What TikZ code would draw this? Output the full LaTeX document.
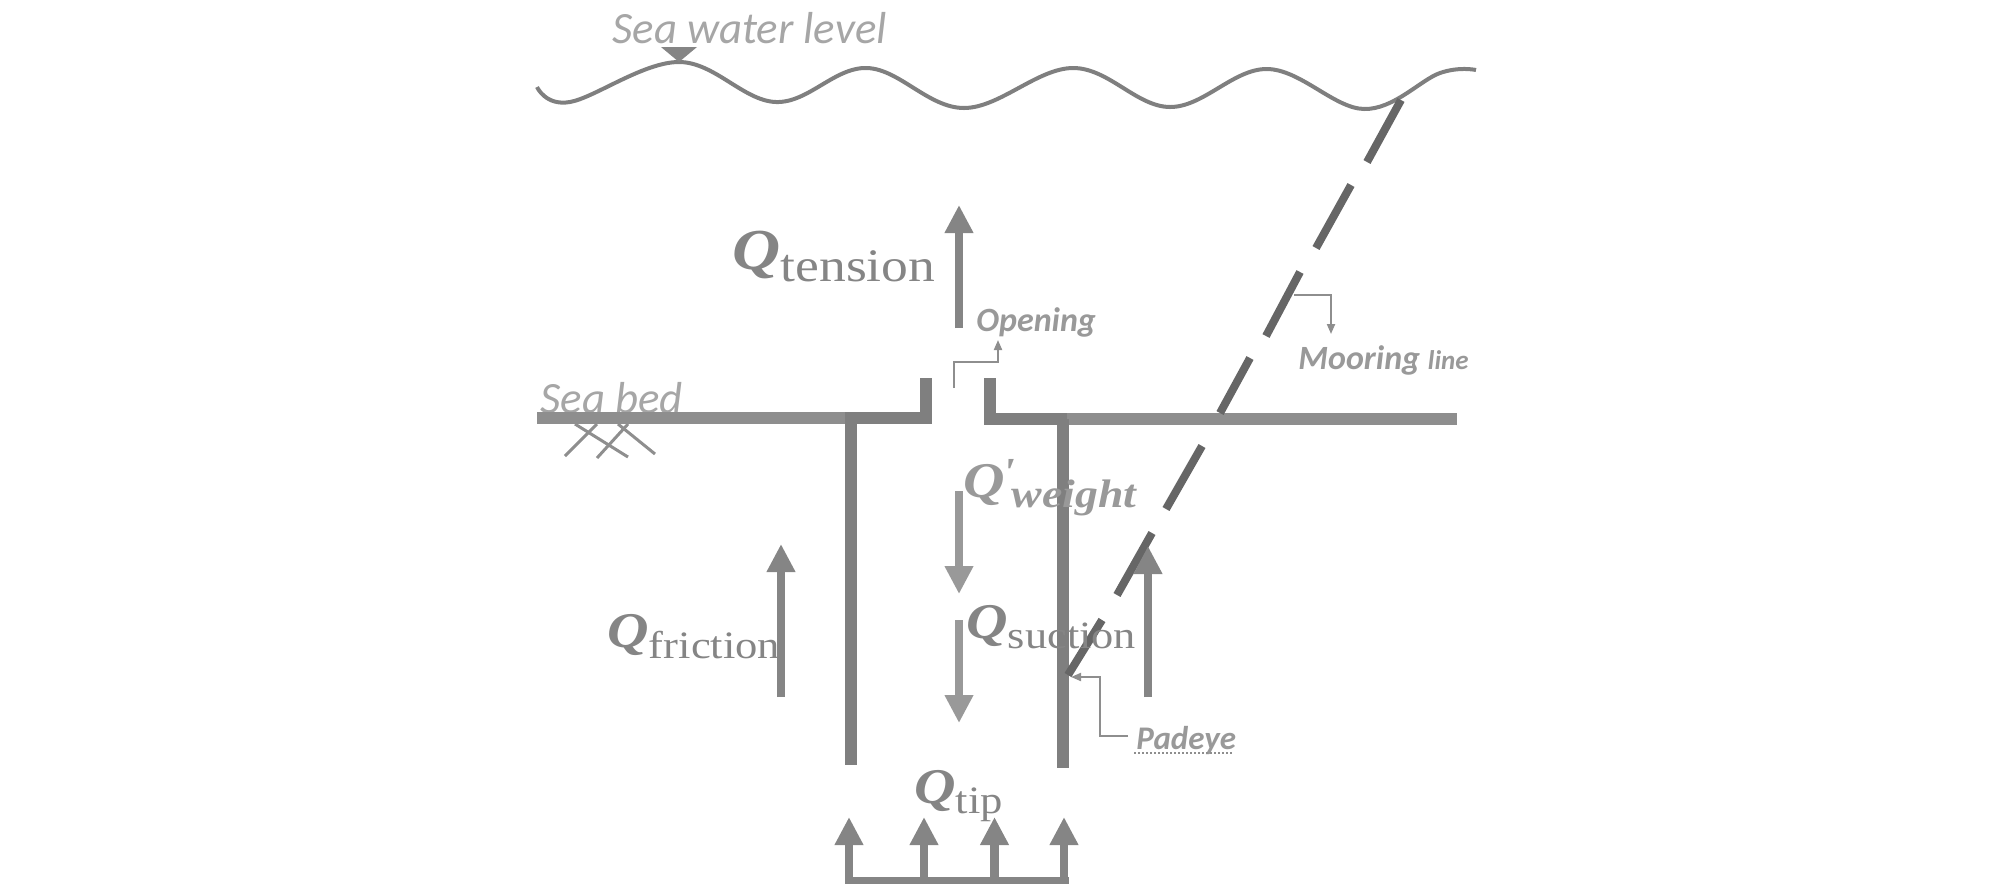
\documentclass[tikz,border=0pt]{standalone}
\usepackage{fontspec}
\usepackage{xcolor}
\usetikzlibrary{arrows.meta}
\newfontfamily\notefont{Carlito}
\newfontfamily\forcefont[FakeStretch=1.15]{Liberation Serif}
\definecolor{forcegray}{HTML}{858585}
\definecolor{lightforce}{HTML}{999999}
\definecolor{wallgray}{HTML}{7F7F7F}
\definecolor{groundgray}{HTML}{8E8E8E}
\definecolor{mooringgray}{HTML}{666666}
\definecolor{textgray}{HTML}{999999}
\definecolor{thingray}{HTML}{A6A6A6}
\newcommand{\forcelabel}[4]{{\forcefont\fontsize{#1}{#1}\selectfont\bfseries\itshape Q}{\raisebox{#3}{\forcefont\fontsize{#2}{#2}\selectfont #4}}}

\begin{document}
\begin{tikzpicture}[
    x=0.5pt,
    y=-0.5pt,
    forcearrow/.style={
        draw=forcegray,
        line width=4.3pt,
        -{Triangle[length=14pt,width=13.5pt]}
    },
    lightarrow/.style={forcearrow, draw=lightforce, fill=lightforce, -{Triangle[length=14pt,width=13.5pt,color=lightforce]}},
    wall/.style={draw=wallgray, line width=6pt},
    ground/.style={draw=groundgray, line width=6pt},
    hatch/.style={draw=groundgray, line width=1.5pt},
    mooring/.style={draw=mooringgray, line width=4pt},
    leader/.style={draw=groundgray, line width=1pt},
    leaderarrow/.style={leader, -{Triangle[length=5pt,width=4pt]}},
    forcetext/.style={anchor=base west, inner sep=0pt, text=forcegray},
    notetext/.style={anchor=base west, inner sep=0pt, text=textgray, font=\notefont\bfseries\itshape\fontsize{17}{17}\selectfont},
    leveltext/.style={anchor=base west, inner sep=0pt, text=thingray, font=\notefont\itshape\fontsize{22.4}{22.4}\selectfont}
]

\useasboundingbox (0,0) rectangle (2008,891);

% water
\draw[draw=wallgray, line width=2pt] plot[smooth, tension=0.62] coordinates {
    (537,87) (570,102) (679,62) (776,102) (867,68) (964,108)
    (1073,68) (1170,107) (1267,69) (1364,109) (1440,73) (1476,70)};
\fill[fill=forcegray] (661,47) -- (697,47) -- (679,62) -- cycle;
\node[leveltext] (waterlevel) at (612,43) {Sea water level};

% sea bed
\node[leveltext] (seabed) at (540,413) {Sea bed};
\draw[ground] (537,418) -- (845,418);
\draw[ground] (1067,419) -- (1457,419);
\foreach \xa/\ya/\xb/\yb in {565/456/597/424, 597/458/628/424, 575/424/628/457, 618/424/655/454}
    \draw[hatch] (\xa,\ya) -- (\xb,\yb);

% caisson
\coordinate (leftstubtop) at (925.5,378);
\coordinate (leftcorner) at (925.5,418);
\coordinate (leftlid) at (845,418);
\coordinate (rightstubtop) at (989.5,378);
\coordinate (rightcorner) at (989.5,419);
\coordinate (rightlid) at (1067,419);
\draw[wall] (leftstubtop) -- (leftcorner |- 0,424) (leftcorner) -- (leftlid);
\draw[wall] (rightstubtop) -- (rightcorner |- 0,425) (rightcorner) -- (rightlid);
\draw[wall] (851,418) -- (851,765);
\draw[wall] (1063,419) -- (1063,768);

% mooring line
\foreach \xa/\ya/\xb/\yb in {1401/100/1367/162, 1351/185/1316/248, 1300/272/1266/336, 1250/358/1220/413,
    1202/446/1166/509, 1152/533/1117/595, 1102/620/1068/675}
    \draw[mooring] (\xa,\ya) -- (\xb,\yb);

% forces
\coordinate (tensionbot) at (959,328);
\coordinate (tensiontop) at (959,205);
\draw[forcearrow] (tensionbot) -- (tensiontop);
\node[forcetext] (tension) at (732,269) {\forcelabel{29}{23.3}{-6pt}{tension}};

\coordinate (frictionbot) at (781,697);
\coordinate (frictiontop) at (781,544);
\draw[forcearrow] (frictionbot) -- (frictiontop);
\node[forcetext] (friction) at (607,647) {\forcelabel{25}{19.4}{-5.5pt}{friction}};

\coordinate (padbot) at (1148,697);
\coordinate (padtop) at (1148,546);
\draw[forcearrow] (padbot) -- (padtop);

\coordinate (weighttop) at (959,491);
\coordinate (weightbot) at (959,594);
\draw[lightarrow] (weighttop) -- (weightbot);
\node[forcetext, text=lightforce] (weight) at (963,497) {\forcelabel{25}{19.9}{-5pt}{\bfseries\itshape\kern-1pt\raisebox{11pt}{'}\kern-2pt weight}};

\coordinate (suctiontop) at (959,620);
\coordinate (suctionbot) at (959,723);
\draw[lightarrow] (suctiontop) -- (suctionbot);
\node[forcetext] (suction) at (966,638) {\forcelabel{25}{19.3}{-5pt}{suction}};

% tip
\node[forcetext] (tip) at (914,803) {\forcelabel{25}{19.4}{-5pt}{tip}};
\draw[draw=forcegray, line width=3.5pt] (845,880) -- (1069,880);
\foreach \x in {849,924,994.5,1064}
    \draw[forcearrow] (\x,880) -- (\x,817);

% notes
\node[notetext] (opening) at (976,331) {Opening};
\coordinate (openingstart) at (954,388);
\coordinate (openingbend) at (954,362);
\coordinate (openingend) at (998,340);
\draw[leaderarrow] (openingstart) -- (openingbend) -| (openingend);

\node[notetext] (mooringline) at (1298,369) {Mooring {\fontsize{13.5}{13.5}\selectfont line}};
\coordinate (mooringstart) at (1294,295);
\coordinate (mooringend) at (1331,334);
\draw[leaderarrow] (mooringstart) -| (mooringend);

\node[notetext, font=\notefont\bfseries\itshape\fontsize{16.5}{16.5}\selectfont] (padeye) at (1136,749) {Padeye};
\coordinate (padeyestart) at (1128,736);
\coordinate (padeyebend) at (1100,736);
\coordinate (padeyeend) at (1071,677);
\draw[leaderarrow] (padeyestart) -- (padeyebend) |- (padeyeend);
\draw[draw=groundgray, line width=1pt, densely dotted] (1134,753) -- (1233,753);

\end{tikzpicture}
\end{document}
